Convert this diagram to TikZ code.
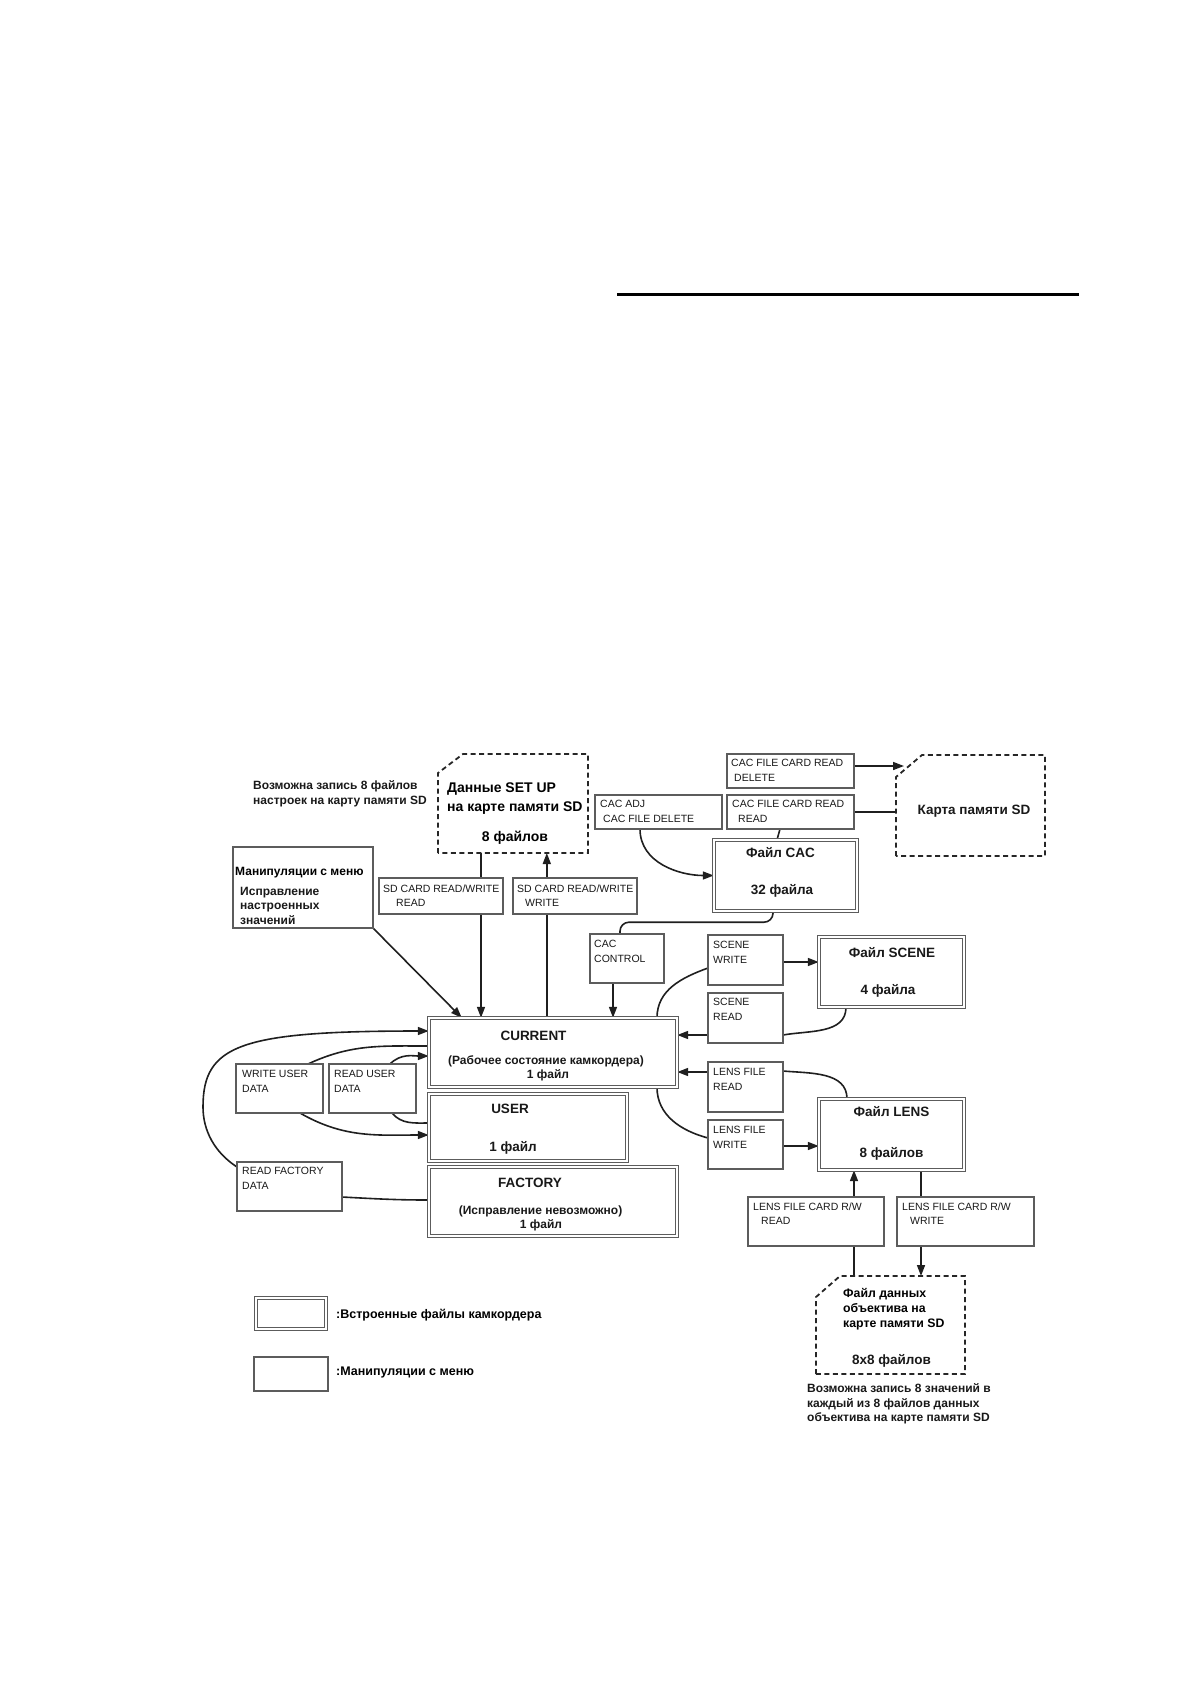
\documentclass[tikz,border=0pt]{standalone}
\usepackage{fontspec}
\setmainfont{Liberation Sans}
\usetikzlibrary{arrows.meta,calc}
\pgfdeclarelayer{bg}
\pgfsetlayers{bg,main}
\definecolor{boxc}{gray}{0.36}
\definecolor{linec}{gray}{0.12}
\newcommand\fsm{\fontsize{10.5}{14.5}\selectfont}
\newcommand\fcp{\bfseries\fontsize{12}{14.5}\selectfont}
\newcommand\fti{\bfseries\fontsize{13.5}{16}\selectfont}
\newcommand\fsb{\bfseries\fontsize{12}{14}\selectfont}
\newcommand\fsu{\bfseries\fontsize{14}{19}\selectfont}
\newcommand\fln{\bfseries\fontsize{12.3}{15}\selectfont}
\tikzset{
  x=1pt, y=1pt,
  boxsize/.style 2 args={minimum width=#1pt, minimum height=#2pt},
  mbox/.style={draw=boxc, line width=1.2pt, fill=white, anchor=north west, inner sep=0pt, outer sep=0pt},
  dbox/.style={draw=boxc, line width=0.9pt, double=white, double distance=1.8pt, fill=white, anchor=north west, inner sep=0pt, outer sep=0pt},
  areanode/.style={anchor=north west, inner sep=0pt, outer sep=0pt},
  cardline/.style={draw=black!85, line width=1.8pt, dash pattern=on 5pt off 3.5pt},
  lbltxt/.style={anchor=north west, inner sep=0pt, align=left, font=\fsm, text=black!90},
  captxt/.style={anchor=north west, inner sep=0pt, align=left, font=\fcp, text=black!90},
  ttltxt/.style={anchor=base, inner sep=0pt, font=\fti, text=black!90},
  subtxt/.style={anchor=base, inner sep=0pt, font=\fsb, text=black!90},
  conn/.style={draw=linec, line width=1.6pt},
  arrconn/.style={conn, -{Triangle[length=11pt,width=8pt]}},
}
\begin{document}
\begin{tikzpicture}
\useasboundingbox (0,0) rectangle (1190,-1684);

% top rule
\draw[line width=3pt] (617,-294) -- (1079,-294);

% ---------- card areas ----------
\node[areanode, boxsize={150}{99}] (setup) at (438,-754) {};
\draw[cardline] (setup.south west) -- ([yshift=-19pt]setup.north west) -- ([xshift=25pt]setup.north west) -- (setup.north east) -- (setup.south east) -- cycle;
\node[areanode, boxsize={149}{101}] (sdcard) at (896,-755) {};
\draw[cardline] (sdcard.south west) -- ([yshift=-22pt]sdcard.north west) -- ([xshift=26pt]sdcard.north west) -- (sdcard.north east) -- (sdcard.south east) -- cycle;
\node[areanode, boxsize={149}{98}] (lenscard) at (816,-1276) {};
\draw[cardline] (lenscard.south west) -- ([yshift=-21pt]lenscard.north west) -- ([xshift=24pt]lenscard.north west) -- (lenscard.north east) -- (lenscard.south east) -- cycle;

% ---------- menu boxes ----------
\node[mbox, boxsize={140}{81}] (menu) at (233,-847) {};
\node[mbox, boxsize={124}{36}] (sdr) at (379,-878) {};
\node[mbox, boxsize={124}{36}] (sdw) at (513,-878) {};
\node[mbox, boxsize={127}{34}] (cacadj) at (595,-795) {};
\node[mbox, boxsize={127}{34}] (cacdel) at (727,-754) {};
\node[mbox, boxsize={127}{34}] (cacrd) at (727,-795) {};
\node[mbox, boxsize={74}{49}] (cacctl) at (590,-934) {};
\node[mbox, boxsize={87}{49}] (wud) at (236,-1064) {};
\node[mbox, boxsize={87}{49}] (rud) at (329,-1064) {};
\node[mbox, boxsize={105}{49}] (rfd) at (237,-1162) {};
\node[mbox, boxsize={75}{50}] (scw) at (708,-935) {};
\node[mbox, boxsize={75}{50}] (scr) at (708,-993) {};
\node[mbox, boxsize={75}{50}] (lfr) at (708,-1062) {};
\node[mbox, boxsize={75}{49}] (lfw) at (708,-1120) {};
\node[mbox, boxsize={136}{49}] (lcr) at (748,-1197) {};
\node[mbox, boxsize={137}{49}] (lcw) at (897,-1197) {};
\node[mbox, boxsize={74}{34}] (leg2) at (254,-1357) {};

% ---------- built-in file boxes ----------
\node[dbox, boxsize={143.4}{71.4}] (cacf) at (713.8,-839.8) {};
\node[dbox, boxsize={145.4}{70.4}] (scf) at (818.8,-936.8) {};
\node[dbox, boxsize={145.4}{71.4}] (lensf) at (818.8,-1098.8) {};
\node[dbox, boxsize={248.4}{69.4}] (cur) at (428.8,-1017.8) {};
\node[dbox, boxsize={198.4}{67.4}] (user) at (428.8,-1093.8) {};
\node[dbox, boxsize={248.4}{69.4}] (fact) at (428.8,-1166.8) {};
\node[dbox, boxsize={70.4}{31.4}] (leg1) at (255.8,-1297.8) {};

% ---------- texts ----------
\node[captxt] (tCapSU) at (253,-780.7) {Возможна запись 8 файлов\\настроек на карту памяти SD};
\node[anchor=north west, inner sep=0pt, align=left, font=\fsu] (tSU) at (447,-783) {Данные SET UP\\на карте памяти SD};
\node[anchor=base, inner sep=0pt, font=\fsu] (tSU8) at (515,-841) {8 файлов};
\node[anchor=base west, inner sep=0pt, font=\fcp] (tMenu1) at (235,-875.3) {Манипуляции с меню};
\node[captxt] (tMenu2) at (240,-886.7) {Исправление\\настроенных\\значений};

\node[lbltxt] (tSdr) at (383,-884.2) {SD CARD READ/WRITE\\\hspace*{13pt}READ};
\node[lbltxt] (tSdw) at (517,-884.2) {SD CARD READ/WRITE\\\hspace*{8pt}WRITE};
\node[lbltxt] (tCacadj) at (600,-800.2) {CAC ADJ\\\hspace*{3pt}CAC FILE DELETE};
\node[lbltxt] (tCacdel) at (731,-759.2) {CAC FILE CARD READ\\\hspace*{3pt}DELETE};
\node[lbltxt] (tCacrd) at (732,-800.2) {CAC FILE CARD READ\\\hspace*{6pt}READ};
\node[lbltxt] (tCacctl) at (594,-940.2) {CAC\\CONTROL};
\node[lbltxt] (tScw) at (713,-941.2) {SCENE\\WRITE};
\node[lbltxt] (tScr) at (713,-998.2) {SCENE\\READ};
\node[lbltxt] (tLfr) at (713,-1068.2) {LENS FILE\\READ};
\node[lbltxt] (tLfw) at (713,-1126.2) {LENS FILE\\WRITE};
\node[lbltxt] (tLcr) at (753,-1202.2) {LENS FILE CARD R/W\\\hspace*{8pt}READ};
\node[lbltxt] (tLcw) at (902,-1202.2) {LENS FILE CARD R/W\\\hspace*{8pt}WRITE};
\node[lbltxt] (tWud) at (242,-1070.2) {WRITE USER\\DATA};
\node[lbltxt] (tRud) at (334,-1070.2) {READ USER\\DATA};
\node[lbltxt] (tRfd) at (242,-1167.2) {READ FACTORY\\DATA};

\node[ttltxt] (tCacf1) at (780.5,-857.8) {Файл CAC};
\node[ttltxt] (tCacf2) at (782,-894.8) {32 файла};
\node[ttltxt] (tScf1) at (892,-957.8) {Файл SCENE};
\node[ttltxt] (tScf2) at (888,-994.8) {4 файла};
\node[ttltxt] (tLens1) at (891.5,-1116.8) {Файл LENS};
\node[ttltxt] (tLens2) at (891.5,-1157.8) {8 файлов};
\node[ttltxt] (tSdcard) at (974,-814.8) {Карта памяти SD};

\node[ttltxt] (tCur1) at (533.5,-1040.8) {CURRENT};
\node[subtxt] (tCur2) at (546,-1064.3) {(Рабочее состояние камкордера)};
\node[subtxt] (tCur3) at (548,-1078.3) {1 файл};
\node[ttltxt] (tUser1) at (510,-1113.8) {USER};
\node[ttltxt] (tUser2) at (513,-1151.8) {1 файл};
\node[ttltxt] (tFact1) at (530,-1187.8) {FACTORY};
\node[subtxt] (tFact2) at (540.5,-1214.3) {(Исправление невозможно)};
\node[subtxt] (tFact3) at (541,-1228.3) {1 файл};

\node[anchor=north west, inner sep=0pt, align=left, font=\fln] (tLc) at (843,-1288.6) {Файл данных\\объектива на\\карте памяти SD};
\node[ttltxt] (tLc8) at (891.5,-1364.8) {8x8 файлов};
\node[anchor=north west, inner sep=0pt, align=left, font=\fcp, text=black!90] (tCapL) at (807,-1383.7) {Возможна запись 8 значений в\\каждый из 8 файлов данных\\объектива на карте памяти SD};

\node[anchor=base west, inner sep=0pt, font=\bfseries\fontsize{12.5}{14}\selectfont] (tLeg1) at (336,-1318.5) {:Встроенные файлы камкордера};
\node[anchor=base west, inner sep=0pt, font=\bfseries\fontsize{12.5}{14}\selectfont] (tLeg2) at (336,-1375.5) {:Манипуляции с меню};

% ---------- connectors ----------
\begin{pgfonlayer}{bg}
\draw[arrconn] (menu.south east) -- ([xshift=33pt]cur.north west);
\coordinate (p2) at ([xshift=43pt]setup.south west);
\draw[arrconn] (p2) -- (p2 |- cur.north);
\coordinate (p3) at ([xshift=118pt]cur.north west);
\draw[arrconn] (p3) -- (p3 |- setup.south);
\draw[arrconn] ([xshift=45pt]cacadj.south west) to[out=-90,in=180] (cacf.west);
\coordinate (sdtip) at (904,-766);
\draw[arrconn] ([yshift=5pt]cacdel.east) -- (sdtip);
\draw[conn] (cacrd.east) -- (cacrd.east -| sdcard.west);
\draw[conn] ([xshift=53pt]cacrd.south west) -- ([xshift=63.2pt]cacf.north west);
\draw[conn, rounded corners=9pt] ([xshift=59.2pt]cacf.south west) -- ++(0,-11) -| ([xshift=30pt]cacctl.north west);
\coordinate (p9) at ([xshift=23pt]cacctl.south west);
\draw[arrconn] (p9) -- (p9 |- cur.north);
\draw[conn] ([xshift=228.2pt]cur.north west) to[out=90,in=200] ([yshift=-8pt]scw.west);
\coordinate (p11) at ([yshift=-2pt]scw.east);
\draw[arrconn] (p11) -- (p11 -| scf.west);
\draw[conn] ([xshift=27.2pt]scf.south west) to[out=-90,in=10] ([yshift=-17pt]scr.east);
\coordinate (p13) at ([yshift=-17pt]scr.west);
\draw[arrconn] (p13) -- (p13 -| cur.east);
\coordinate (p14) at ([yshift=15pt]lfr.west);
\draw[arrconn] (p14) -- (p14 -| cur.east);
\draw[conn] ([xshift=28.2pt]lensf.north west) to[out=90,in=-5] ([yshift=16pt]lfr.east);
\draw[conn] ([xshift=228.2pt]cur.south west) to[out=-90,in=165] ([yshift=6.5pt]lfw.west);
\coordinate (p17) at ([yshift=-1.5pt]lfw.east);
\draw[arrconn] (p17) -- (p17 -| lensf.west);
\coordinate (p18) at ([xshift=106pt]lcr.north west);
\draw[arrconn] (p18) -- (p18 |- lensf.south);
\coordinate (p19) at ([xshift=24pt]lcw.north west);
\draw[conn] (p19) -- (p19 |- lensf.south);
\coordinate (p20) at ([xshift=106pt]lcr.south west);
\draw[conn] (p20) -- (p20 |- lenscard.north);
\coordinate (p21) at ([xshift=24pt]lcw.south west);
\draw[arrconn] (p21) -- (p21 |- lenscard.north);
\coordinate (loopL) at (203,-1107);
\draw[arrconn] ([yshift=-5pt]rfd.north west) .. controls +(-23,15) and +(0,-23) .. (loopL) .. controls +(0,62) and +(-189,0) .. ([yshift=21.5pt]cur.west);
\draw[conn] ([yshift=-10.5pt]rfd.east) to[out=-3,in=180] ([yshift=1.5pt]fact.west);
\draw[conn] ([yshift=6.5pt]cur.west) to[out=180,in=25] ([xshift=72pt]wud.north west);
\draw[arrconn] ([xshift=64pt]wud.south west) to[out=-30,in=180] ([yshift=-7.5pt]user.west);
\draw[conn] ([xshift=63pt]rud.south west) to[out=-50,in=180] ([yshift=4.5pt]user.west);
\draw[arrconn] ([xshift=61pt]rud.north west) to[out=45,in=180] ([yshift=-3.5pt]cur.west);
\end{pgfonlayer}
\end{tikzpicture}
\end{document}
